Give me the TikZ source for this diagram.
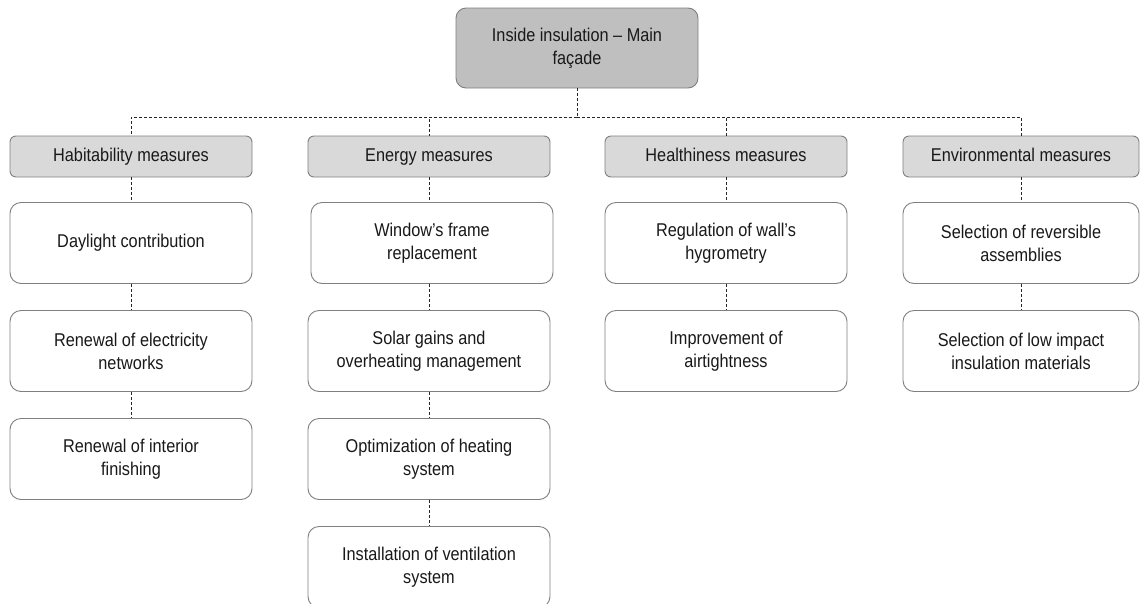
\documentclass[tikz,border=0pt]{standalone}
\usepackage{fontspec}
\setmainfont{Liberation Sans}[FakeStretch=0.88]
\usepackage{tikz}

\definecolor{boxline}{HTML}{7F7F7F}
\definecolor{topfill}{HTML}{BFBFBF}
\definecolor{catfill}{HTML}{D9D9D9}

\begin{document}
\begin{tikzpicture}[x=1pt, y=-1pt,
    every node/.style={draw=boxline, line width=0.9pt, align=center, text=black!90,
        font=\fontsize{18.5}{23}\selectfont},
    topbox/.style={fill=topfill, rounded corners=10pt, minimum width=242pt, minimum height=80pt},
    catbox/.style={fill=catfill, rounded corners=6pt, minimum width=242pt, minimum height=41pt,
        text height=13pt, text depth=4pt},
    measbox/.style={fill=white, rounded corners=11pt, minimum width=242pt, minimum height=81pt},
    link/.style={draw=black!85, line width=0.8pt, dash pattern=on 3pt off 2pt}]

\useasboundingbox (0,0) rectangle (1140,603);

% Top box
\node[topbox] (top) at (577,48) {Inside insulation -- Main\\façade};
\coordinate (bar) at (577,117);

% Categories
\node[catbox] (hab) at (131,156.5) {Habitability measures};
\node[catbox] (ene) at (429,156.5) {Energy measures};
\node[catbox] (hea) at (726,156.5) {Healthiness measures};
\node[catbox, minimum width=236pt] (env) at (1021,156.5) {Environmental measures};

\draw[link] (top.south) -- (bar);
\draw[link] (bar) -| (hab.north);
\draw[link] (bar) -| (ene.north);
\draw[link] (bar) -| (hea.north);
\draw[link] (bar) -| (env.north);

% Habitability measures
\node[measbox] (day) at (131,243) {Daylight contribution};
\node[measbox] (elec) at (131,351) {Renewal of electricity\\networks};
\node[measbox] (fini) at (131,459) {Renewal of interior\\finishing};

\draw[link] (hab.south) -- (day.north);
\draw[link] (day.south) -- (elec.north);
\draw[link] (elec.south) -- (fini.north);

% Energy measures
\node[measbox] (wind) at (432,243) {Window’s frame\\replacement};
\node[measbox] (sola) at (429,351) {Solar gains and\\overheating management};
\node[measbox] (heat) at (429,459) {Optimization of heating\\system};
\node[measbox] (vent) at (429,567) {Installation of ventilation\\system};

\draw[link] (ene.south) -- (ene.south |- wind.north);
\draw[link] (ene.south |- wind.south) -- (sola.north);
\draw[link] (sola.south) -- (heat.north);
\draw[link] (heat.south) -- (vent.north);

% Healthiness measures
\node[measbox] (hygr) at (726,243) {Regulation of wall’s\\hygrometry};
\node[measbox] (airt) at (726,351) {Improvement of\\airtightness};

\draw[link] (hea.south) -- (hygr.north);
\draw[link] (hygr.south) -- (airt.north);

% Environmental measures
\node[measbox, minimum width=236pt] (reve) at (1021,243) {Selection of reversible\\assemblies};
\node[measbox, minimum width=236pt] (lowi) at (1021,351) {Selection of low impact\\insulation materials};

\draw[link] (env.south) -- (reve.north);
\draw[link] (reve.south) -- (lowi.north);

\end{tikzpicture}
\end{document}
